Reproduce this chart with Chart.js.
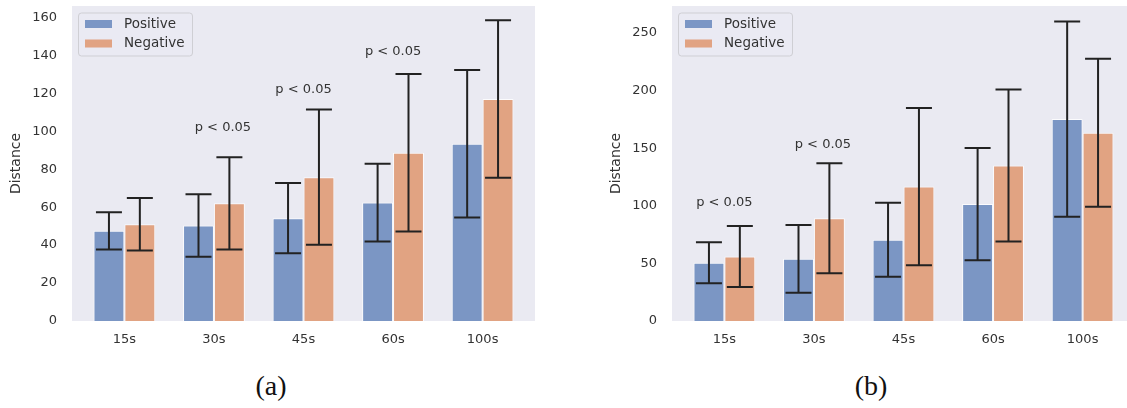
<!DOCTYPE html>
<html>
<head>
<meta charset="utf-8">
<script src="https://cdn.jsdelivr.net/npm/chart.js@4"></script>
<style>
  html, body { margin: 0; padding: 0; background: #fff; overflow: hidden; width: 1127px; height: 408px; }
  .panel { position: absolute; top: 0; }
  .panel canvas { display: block; }
  .caption { position: absolute; top: 370px; font-family: 'Liberation Serif', serif; font-size: 28px; line-height: 32px; color: #111; transform: translateX(-50%); }
</style>
</head>
<body>
<div class="panel" style="left:0px"><canvas id="chartA" width="536" height="360"></canvas></div>
<div class="panel" style="left:600px"><canvas id="chartB" width="536" height="360"></canvas></div>
<div class="caption" style="left:271px">(a)</div>
<div class="caption" style="left:871px">(b)</div>
<script>
// shared categories
const categories = ['15s', '30s', '45s', '60s', '100s'];
const seriesNames = ['Positive', 'Negative'];

// panel (a)
const posMeanA = [47.5, 50.3, 54.2, 62.4, 93.4];
const posErrA = [9.8, 16.5, 18.5, 20.5, 38.9];
const negMeanA = [51.0, 62.0, 75.8, 88.6, 117.0];
const negErrA = [13.8, 24.3, 35.6, 41.5, 41.5];
const pLabelXA = [1.1, 2, 3];
const pLabelYA = [100, 120, 140];

// panel (b)
const posMeanB = [50.5, 54.0, 70.5, 101.5, 175.3];
const posErrB = [17.8, 29.4, 32.1, 48.8, 84.8];
const negMeanB = [56.0, 89.2, 116.7, 135.0, 163.5];
const negErrB = [26.5, 47.7, 68.2, 65.9, 64.3];
const pLabelXB = [0, 1.1];
const pLabelYB = [100, 150];

const pText = 'p < 0.05';
const textColor = '#333';

Chart.defaults.font.family = "'DejaVu Sans', sans-serif";
Chart.defaults.color = textColor;

// grey axes background
const plotBackground = {
  id: 'plotBackground',
  beforeDraw(chart) {
    const { ctx, chartArea: a } = chart;
    ctx.save();
    ctx.fillStyle = '#EAEAF2';
    ctx.fillRect(a.left, a.top, a.right - a.left, a.bottom - a.top);
    ctx.restore();
  }
};

// error bars from each dataset's errors array
const errorBars = {
  id: 'errorBars',
  afterDatasetsDraw(chart) {
    const ctx = chart.ctx;
    const yScale = chart.scales.y;
    ctx.save();
    ctx.strokeStyle = '#222';
    ctx.lineWidth = 2;
    chart.data.datasets.forEach((ds, i) => {
      const meta = chart.getDatasetMeta(i);
      meta.data.forEach((bar, j) => {
        const v = ds.data[j].y;
        const e = ds.errors[j];
        const top = yScale.getPixelForValue(v + e);
        const bottom = yScale.getPixelForValue(v - e);
        const x = bar.x;
        const cap = 13;
        ctx.beginPath();
        ctx.moveTo(x, top); ctx.lineTo(x, bottom);
        ctx.moveTo(x - cap, top); ctx.lineTo(x + cap, top);
        ctx.moveTo(x - cap, bottom); ctx.lineTo(x + cap, bottom);
        ctx.stroke();
      });
    });
    ctx.restore();
  }
};

// "p < 0.05" notes placed in data coordinates
const pNotes = {
  id: 'pNotes',
  afterDatasetsDraw(chart, args, opts) {
    const ctx = chart.ctx;
    ctx.save();
    ctx.fillStyle = textColor;
    ctx.font = "13px 'DejaVu Sans', sans-serif";
    ctx.textAlign = 'center';
    ctx.textBaseline = 'alphabetic';
    opts.xs.forEach((xv, k) => {
      const px = chart.scales.x.getPixelForValue(xv);
      const py = chart.scales.y.getPixelForValue(opts.ys[k]);
      ctx.fillText(pText, px, py);
    });
    ctx.restore();
  }
};

// framed legend in the upper left of the plot
const boxLegend = {
  id: 'boxLegend',
  afterDraw(chart) {
    const { ctx, chartArea: a } = chart;
    const x0 = a.left + 6, y0 = a.top + 6.5, w = 114, h = 43;
    ctx.save();
    ctx.beginPath();
    ctx.roundRect(x0 + 0.5, y0 + 0.5, w, h, 3);
    ctx.fillStyle = 'rgba(234,234,242,0.8)';
    ctx.fill();
    ctx.strokeStyle = '#cfcfd4';
    ctx.lineWidth = 1;
    ctx.stroke();
    ctx.font = "13.5px 'DejaVu Sans', sans-serif";
    ctx.textBaseline = 'middle';
    ctx.textAlign = 'left';
    chart.data.datasets.forEach((ds, i) => {
      const cy = y0 + 11.5 + i * 19.5;
      ctx.fillStyle = ds.backgroundColor;
      ctx.fillRect(x0 + 7, cy - 4, 27, 8);
      ctx.fillStyle = textColor;
      ctx.fillText(ds.label, x0 + 46, cy);
    });
    ctx.restore();
  }
};

function makeChart(id, posMean, posErr, negMean, negErr, yMax, yStep, noteX, noteY) {
  const toPoints = arr => arr.map((v, i) => ({ x: i, y: v }));
  return new Chart(document.getElementById(id), {
    type: 'bar',
    data: {
      datasets: [
        {
          label: seriesNames[0],
          data: toPoints(posMean),
          errors: posErr,
          backgroundColor: 'rgba(76,114,176,0.7)',
          borderColor: 'rgba(255,255,255,0.8)',
          borderWidth: 1,
          categoryPercentage: 0.69,
          barPercentage: 1.0
        },
        {
          label: seriesNames[1],
          data: toPoints(negMean),
          errors: negErr,
          backgroundColor: 'rgba(221,132,82,0.7)',
          borderColor: 'rgba(255,255,255,0.8)',
          borderWidth: 1,
          categoryPercentage: 0.69,
          barPercentage: 1.0
        }
      ]
    },
    options: {
      responsive: false,
      animation: false,
      layout: { padding: { top: 6, right: 1, left: 0, bottom: 0 } },
      plugins: {
        legend: { display: false },
        tooltip: { enabled: false },
        pNotes: { xs: noteX, ys: noteY }
      },
      scales: {
        x: {
          type: 'linear',
          offset: false,
          min: -0.585,
          max: 4.585,
          grid: { display: false, drawTicks: false },
          border: { display: false },
          ticks: {
            stepSize: 1,
            includeBounds: false,
            padding: 11,
            font: { size: 13 },
            color: textColor,
            callback: v => (Number.isInteger(v) && categories[v]) ? categories[v] : ''
          },
          afterFit: s => { s.height = 39; s.paddingLeft = 0; s.paddingRight = 0; }
        },
        y: {
          min: 0,
          max: yMax,
          grid: { display: false, drawTicks: false },
          border: { display: false },
          ticks: {
            stepSize: yStep,
            includeBounds: false,
            padding: 15,
            font: { size: 13 },
            color: textColor
          },
          title: {
            display: true,
            text: 'Distance',
            font: { size: 14 },
            color: textColor,
            padding: { top: 8, bottom: 0 }
          },
          afterFit: s => { s.width = 72; s.paddingTop = 0; s.paddingBottom = 0; }
        }
      }
    },
    plugins: [plotBackground, errorBars, pNotes, boxLegend]
  });
}

makeChart('chartA', posMeanA, posErrA, negMeanA, negErrA, 166, 20, pLabelXA, pLabelYA);
makeChart('chartB', posMeanB, posErrB, negMeanB, negErrB, 273.5, 50, pLabelXB, pLabelYB);
</script>
</body>
</html>
